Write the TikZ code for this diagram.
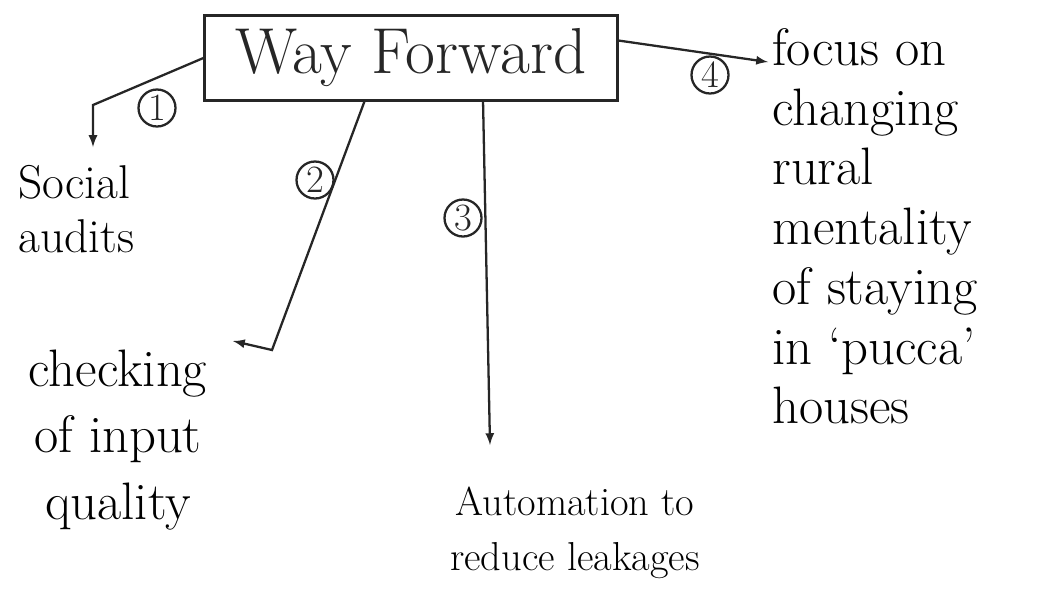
\documentclass[tikz,border=0pt]{standalone}
\usepackage{tikz}
\usetikzlibrary{arrows,calc,positioning}

\tikzset{
  pen/.style={line width=1.3pt,black!85},
  leaf/.style={inner sep=0pt,align=center},
  num/.style={draw,pen,circle,minimum size=0.74cm,inner sep=0pt,font=\fontsize{22}{22}\selectfont},
}

\begin{document}
\begin{tikzpicture}[x=0.02cm,y=-0.02cm]
		\useasboundingbox (0,0) rectangle (1050,599);
		% central box
		\node[draw,pen,minimum width=8.26cm,minimum height=1.7cm,font=\fontsize{37}{37}\selectfont] (way) at (411,58) {Way Forward};
		% the four branches
		\node[leaf,align=left,anchor=north west,font=\fontsize{27}{31}\selectfont] (social) at (18,165) {Social\\audits};
		\node[leaf,font=\fontsize{30}{38}\selectfont] (check) at (118,440) {checking\\of input\\quality};
		\node[leaf,font=\fontsize{23}{31}\selectfont] (auto) at (575,533) {Automation to\\reduce leakages};
		\node[leaf,align=left,anchor=north west,font=\fontsize{30}{34}\selectfont] (focus) at (772,28) {focus on\\changing\\rural\\mentality\\of staying\\in `pucca'\\houses};
		% numbers
		\node[num] (n1) at (157,108) {1};
		\node[num] (n2) at (315,180) {2};
		\node[num] (n3) at (463,218) {3};
		\node[num] (n4) at (710,75) {4};
		% connectors
		\coordinate (bend1) at (93,105);
		\coordinate (top2) at (365,100);
		\coordinate (bend2) at (272,350);
		\coordinate (tip2) at (233,341);
		\coordinate (top3) at (483,100);
		\coordinate (tip3) at (490,445);
		\coordinate (tip4) at (768,62);
		\draw[pen,-latex,shorten >=0.36cm] (way.west) -- (bend1) -- (social.north -| bend1);
		\draw[pen,-latex] (top2) -- (bend2) -- (tip2);
		\draw[pen,-latex] (top3) -- (tip3);
		\draw[pen,-latex] ($(way.north east)!0.3!(way.south east)$) -- (tip4);
\end{tikzpicture}
\end{document}
